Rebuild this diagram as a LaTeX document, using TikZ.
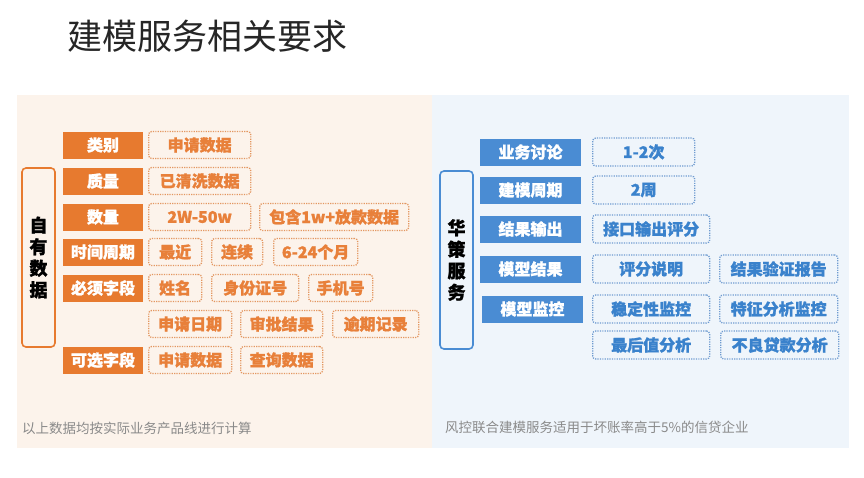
\documentclass[tikz,border=0pt]{standalone}
\usepackage{fontspec}
\setmainfont{Noto Sans CJK SC}[BoldFeatures={FakeBold=1.2}]
\definecolor{cOrange}{HTML}{E77A2F}
\definecolor{cOrangeT}{HTML}{E8803A}
\definecolor{cOrangeD}{HTML}{E39660}
\definecolor{cPeach}{HTML}{FCF3EB}
\definecolor{cBlue}{HTML}{4A8CD3}
\definecolor{cBlueT}{HTML}{3A82CC}
\definecolor{cBlueD}{HTML}{6F9BD0}
\definecolor{cSky}{HTML}{EFF5FB}
\definecolor{cNote}{HTML}{8A8A8A}
\begin{document}
\begin{tikzpicture}[x=1pt,y=-1pt,
  every node/.style={inner sep=0pt,font=\bfseries\fontsize{16}{16}\selectfont},
  orangelab/.style={fill=cOrange,text=white,minimum width=80pt,minimum height=27pt},
  orangeval/.style={draw=cOrangeD,line width=1.3pt,dash pattern=on 1.2pt off 1.2pt,rounded corners=3pt,text=cOrangeT,minimum height=27pt,anchor=west},
  bluelab/.style={fill=cBlue,text=white,minimum width=101pt,minimum height=27pt},
  blueval/.style={draw=cBlueD,line width=1.3pt,dash pattern=on 1.2pt off 1.2pt,rounded corners=3pt,text=cBlueT,minimum height=28pt,anchor=west},
  sidebox/.style={line width=1.6pt,rounded corners=4pt,minimum width=33pt,align=center,font=\bfseries\fontsize{18}{21.5}\selectfont},
  footnote/.style={anchor=west,text=cNote,font=\fontsize{13.5}{14}\selectfont}]
  \useasboundingbox (0,0) rectangle (864,477);
  % panels
  \fill[cPeach] (17,95) rectangle (432,448);
  \fill[cSky] (432,95) rectangle (849,448);
  \node[font=\fontsize{35}{35}\selectfont,text=black!85] (title) at (207,36) {建模服务相关要求};

  % own data
  \node[sidebox,draw=cOrange,minimum height=179pt] (own) at (38.5,257.5) {自\\有\\数\\据};
  \node[orangelab] (kind) at (103,145) {类别};
  \node[orangelab] (quality) at (103,181) {质量};
  \node[orangelab] (amount) at (103,217) {数量};
  \node[orangelab] (period) at (103,252) {时间周期};
  \node[orangelab] (must) at (103,288) {必须字段};
  \node[orangelab] (optional) at (103,360) {可选字段};
  \node[orangeval,minimum width=102pt] (kindA) at (148,145) {申请数据};
  \node[orangeval,minimum width=102pt] (qualityA) at (148,181) {已清洗数据};
  \node[orangeval,minimum width=102pt] (amountA) at (148,217) {2W-50w};
  \node[orangeval,minimum width=149pt] (amountB) at (259,217) {包含1w+放款数据};
  \node[orangeval,minimum width=53pt] (periodA) at (148,252) {最近};
  \node[orangeval,minimum width=51pt] (periodB) at (211,252) {连续};
  \node[orangeval,minimum width=84pt] (periodC) at (273,252) {6-24个月};
  \node[orangeval,minimum width=53pt] (mustA) at (148,288) {姓名};
  \node[orangeval,minimum width=87pt] (mustB) at (211,288) {身份证号};
  \node[orangeval,minimum width=64pt] (mustC) at (308,288) {手机号};
  \node[orangeval,minimum width=83pt] (mustD) at (148,324) {申请日期};
  \node[orangeval,minimum width=82pt] (mustE) at (240,324) {审批结果};
  \node[orangeval,minimum width=86pt] (mustF) at (332,324) {逾期记录};
  \node[orangeval,minimum width=83pt] (optionalA) at (148,360) {申请数据};
  \node[orangeval,minimum width=82pt] (optionalB) at (240,360) {查询数据};
  \node[footnote] (ownnote) at (22,428) {以上数据均按实际业务产品线进行计算};

  % service
  \node[sidebox,draw=cBlue,minimum height=178pt] (service) at (456.5,260) {华\\策\\服\\务};
  \node[bluelab] (talk) at (530.5,152) {业务讨论};
  \node[bluelab] (cycle) at (530.5,190) {建模周期};
  \node[bluelab] (output) at (530.5,229) {结果输出};
  \node[bluelab] (result) at (530.5,269) {模型结果};
  \node[bluelab] (monitor) at (532.5,309) {模型监控};
  \node[blueval,minimum width=102pt] (talkA) at (592,152) {1-2次};
  \node[blueval,minimum width=102pt] (cycleA) at (592,190) {2周};
  \node[blueval,minimum width=117pt] (outputA) at (592,229) {接口输出评分};
  \node[blueval,minimum width=117pt] (resultA) at (592,269) {评分说明};
  \node[blueval,minimum width=118pt] (resultB) at (719,269) {结果验证报告};
  \node[blueval,minimum width=117pt] (monitorA) at (592,309) {稳定性监控};
  \node[blueval,minimum width=118pt] (monitorB) at (719,309) {特征分析监控};
  \node[blueval,minimum width=117pt] (monitorC) at (592,345) {最后值分析};
  \node[blueval,minimum width=118pt] (monitorD) at (720,345) {不良贷款分析};
  \node[footnote] (servicenote) at (445,427) {风控联合建模服务适用于坏账率高于5\%的信贷企业};
\end{tikzpicture}
\end{document}
